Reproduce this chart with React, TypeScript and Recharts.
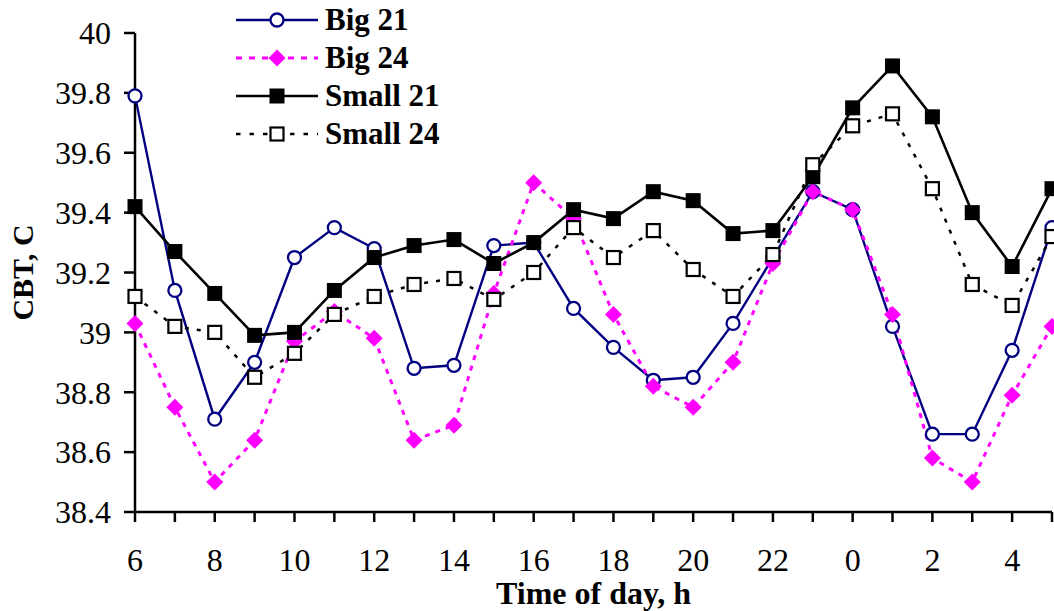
import { LineChart, Line, XAxis, YAxis, Legend, Label } from "recharts";

// hour of day, starting at 6 in the morning
const hours = ["6", "7", "8", "9", "10", "11", "12", "13", "14", "15", "16", "17", "18", "19", "20", "21", "22", "23", "0", "1", "2", "3", "4", "5"];

const big21 = [39.79, 39.14, 38.71, 38.9, 39.25, 39.35, 39.28, 38.88, 38.89, 39.29, 39.3, 39.08, 38.95, 38.84, 38.85, 39.03, 39.25, 39.47, 39.41, 39.02, 38.66, 38.66, 38.94, 39.35];
const big24 = [39.03, 38.75, 38.5, 38.64, 38.97, 39.07, 38.98, 38.64, 38.69, 39.13, 39.5, 39.38, 39.06, 38.82, 38.75, 38.9, 39.23, 39.47, 39.41, 39.06, 38.58, 38.5, 38.79, 39.02];
const small21 = [39.42, 39.27, 39.13, 38.99, 39.0, 39.14, 39.25, 39.29, 39.31, 39.23, 39.3, 39.41, 39.38, 39.47, 39.44, 39.33, 39.34, 39.52, 39.75, 39.89, 39.72, 39.4, 39.22, 39.48];
const small24 = [39.12, 39.02, 39.0, 38.85, 38.93, 39.06, 39.12, 39.16, 39.18, 39.11, 39.2, 39.35, 39.25, 39.34, 39.21, 39.12, 39.26, 39.56, 39.69, 39.73, 39.48, 39.16, 39.09, 39.32];

const yTicks = [38.4, 38.6, 38.8, 39, 39.2, 39.4, 39.6, 39.8, 40];

const FONT = '"Liberation Serif", "Times New Roman", serif';
const NAVY = "#000080";
const PINK = "#FF00FF";

const chartData = hours.map((h, i) => ({
  hour: h,
  big21: big21[i],
  big24: big24[i],
  small21: small21[i],
  small24: small24[i],
}));

// marker shapes
const circleDot = (p: any) =>
  p.cx == null ? <g key={p.key} /> : (
    <circle key={p.key} cx={p.cx} cy={p.cy} r={6.5} fill="#fff" stroke={NAVY} strokeWidth={2.3} />
  );
const diamondDot = (p: any) =>
  p.cx == null ? <g key={p.key} /> : (
    <polygon
      key={p.key}
      points={`${p.cx},${p.cy - 8.5} ${p.cx + 8.5},${p.cy} ${p.cx},${p.cy + 8.5} ${p.cx - 8.5},${p.cy}`}
      fill={PINK}
    />
  );
const filledSquare = (p: any) =>
  p.cx == null ? <g key={p.key} /> : (
    <rect key={p.key} x={p.cx - 7.5} y={p.cy - 7.5} width={15} height={15} fill="#000" />
  );
const openSquare = (p: any) =>
  p.cx == null ? <g key={p.key} /> : (
    <rect key={p.key} x={p.cx - 6.5} y={p.cy - 6.5} width={13} height={13} fill="#fff" stroke="#000" strokeWidth={2.2} />
  );

const legendItems = [
  { name: "Big 21", color: NAVY, dash: undefined, width: 2.4, dot: circleDot },
  { name: "Big 24", color: PINK, dash: "6 7", width: 3, dot: diamondDot },
  { name: "Small 21", color: "#000", dash: undefined, width: 2.5, dot: filledSquare },
  { name: "Small 24", color: "#000", dash: "4.5 9", width: 2.5, dot: openSquare },
];

const LegendBox = () => (
  <div style={{ fontFamily: FONT }}>
    {legendItems.map((it) => (
      <div key={it.name} style={{ display: "flex", alignItems: "center", height: 38 }}>
        <svg width={84} height={38}>
          <line x1={0} y1={19} x2={82} y2={19} stroke={it.color} strokeWidth={it.width} strokeDasharray={it.dash} />
          {it.dot({ cx: 41, cy: 19, key: "m" })}
        </svg>
        <span style={{ fontSize: 31, fontWeight: "bold", marginLeft: 5, lineHeight: "38px" }}>{it.name}</span>
      </div>
    ))}
  </div>
);

export default function App() {
  return (
    <div style={{ position: "absolute", left: 0, top: 0, width: 1054, height: 611, background: "#fff" }}>
      <LineChart width={1054} height={611} data={chartData} margin={{ top: 33, right: 2, left: 0, bottom: 0 }}>
        <XAxis
          dataKey="hour"
          interval={0}
          height={99}
          tickSize={10}
          tickMargin={26}
          tickFormatter={(v: string, i: number) => (i % 2 === 0 ? v : "")}
          tick={{ fontSize: 32, fill: "#000", fontFamily: FONT }}
          axisLine={{ stroke: "#000", strokeWidth: 2.5 }}
          tickLine={{ stroke: "#000", strokeWidth: 2.5 }}
        >
          <Label
            value="Time of day, h"
            position="insideBottom"
            offset={7}
            style={{ fontSize: 32, fontWeight: "bold", fill: "#000", fontFamily: FONT }}
          />
        </XAxis>
        <YAxis
          width={135}
          domain={[38.4, 40]}
          ticks={yTicks}
          interval={0}
          tickSize={11}
          tickMargin={13}
          tickFormatter={(v: number) => String(v)}
          tick={{ fontSize: 32, fill: "#000", fontFamily: FONT }}
          axisLine={{ stroke: "#000", strokeWidth: 2.5 }}
          tickLine={{ stroke: "#000", strokeWidth: 2.5 }}
        >
          <Label
            content={({ viewBox }: any) => (
              <text
                x={0}
                y={0}
                transform={`translate(${viewBox.x + 33}, ${viewBox.y + viewBox.height / 2}) rotate(-90)`}
                textAnchor="middle"
                fontSize={30}
                fontWeight="bold"
                fontFamily={FONT}
                fill="#000"
              >
                CBT, C
              </text>
            )}
          />
        </YAxis>
        <Legend
          layout="vertical"
          align="center"
          verticalAlign="middle"
          wrapperStyle={{ left: 236, top: 1, width: 260 }}
          content={() => <LegendBox />}
        />
        <Line dataKey="big21" name="Big 21" stroke={NAVY} strokeWidth={2.4} dot={circleDot} isAnimationActive={false} />
        <Line dataKey="big24" name="Big 24" stroke={PINK} strokeWidth={3} strokeDasharray="5 6" dot={diamondDot} isAnimationActive={false} />
        <Line dataKey="small21" name="Small 21" stroke="#000" strokeWidth={2.6} dot={filledSquare} isAnimationActive={false} />
        <Line dataKey="small24" name="Small 24" stroke="#000" strokeWidth={2.5} strokeDasharray="4 8" dot={openSquare} isAnimationActive={false} />
      </LineChart>
    </div>
  );
}
